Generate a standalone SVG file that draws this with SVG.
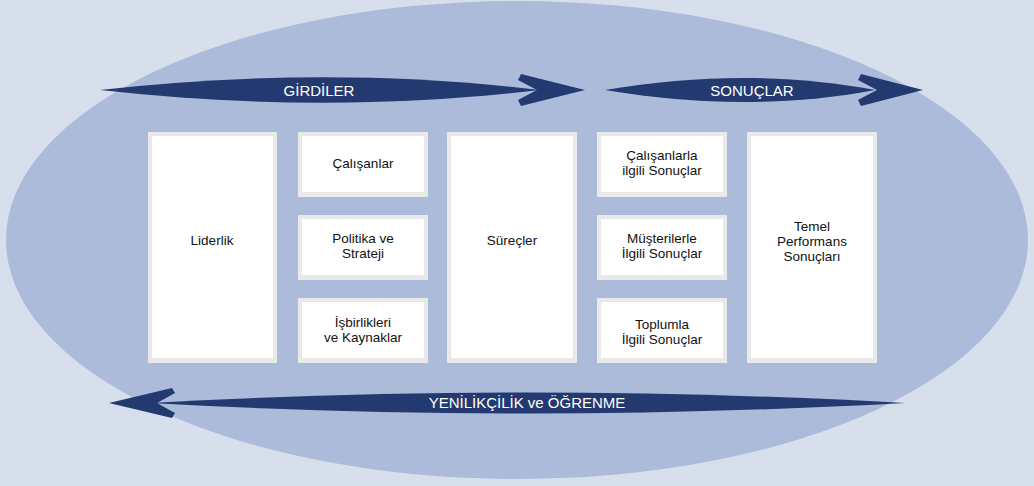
<svg xmlns="http://www.w3.org/2000/svg" width="1034" height="486" viewBox="0 0 1034 486">
<style>
.frame{fill:#e9e9ea}
.inner{fill:#ffffff}
.lbl{font-family:"Liberation Sans","DejaVu Sans",sans-serif;font-size:13.5px;fill:#111;text-anchor:middle}
.alb{font-family:"Liberation Sans","DejaVu Sans",sans-serif;font-size:15px;fill:#ffffff;text-anchor:middle}
.arr{fill:#233a70}
</style>
<rect x="0" y="0" width="1034" height="486" fill="#d7dfec"/>
<ellipse cx="517" cy="240" rx="511" ry="239" fill="#abbbd9"/>
<g id="connectors">
  <g id="arrow-girdiler">
    <path class="arr" d="M100,90 C250,73 400,73 540,90 C400,107 250,107 100,90 Z"/>
    <path class="arr" d="M585,90 L521,74 L518,80 L537,90 L518,100 L521,106 Z"/>
    <text class="alb" x="319" y="96">GİRDİLER</text>
  </g>
  <g id="arrow-sonuclar">
    <path class="arr" d="M605,90 C700,74 790,74 875,90 C790,106 700,106 605,90 Z"/>
    <path class="arr" d="M923,90 L861,74 L858,80 L877,90 L858,100 L861,106 Z"/>
    <text class="alb" x="752" y="96">SONUÇLAR</text>
  </g>
  <g id="arrow-yenilikcilik">
    <path class="arr" d="M150,403 C400,389 650,389 905,403 C650,417 400,417 150,403 Z"/>
    <path class="arr" d="M109,403 L172,388 L175,393 L157,403 L175,413 L172,418 Z"/>
    <text class="alb" x="527" y="408">YENİLİKÇİLİK ve ÖĞRENME</text>
  </g>
</g>
<g id="node-liderlik">
  <rect class="frame" x="148" y="132" width="129" height="231"/>
  <rect class="inner" x="152" y="136" width="121" height="222"/>
  <text class="lbl" x="212" y="245">Liderlik</text>
</g>
<g id="node-calisanlar">
  <rect class="frame" x="298" y="132" width="130" height="65"/>
  <rect class="inner" x="302" y="136" width="122" height="56"/>
  <text class="lbl" x="363" y="168">Çalışanlar</text>
</g>
<g id="node-politika">
  <rect class="frame" x="298" y="215" width="130" height="65"/>
  <rect class="inner" x="302" y="219" width="122" height="56"/>
  <text class="lbl" x="363" y="243">Politika ve</text>
  <text class="lbl" x="363" y="258">Strateji</text>
</g>
<g id="node-isbirlikleri">
  <rect class="frame" x="298" y="298" width="130" height="65"/>
  <rect class="inner" x="302" y="302" width="122" height="56"/>
  <text class="lbl" x="363" y="327">İşbirlikleri</text>
  <text class="lbl" x="363" y="342">ve Kaynaklar</text>
</g>
<g id="node-surecler">
  <rect class="frame" x="447" y="132" width="130" height="231"/>
  <rect class="inner" x="451" y="136" width="122" height="222"/>
  <text class="lbl" x="512" y="245">Süreçler</text>
</g>
<g id="node-calisan-sonuc">
  <rect class="frame" x="597" y="132" width="130" height="65"/>
  <rect class="inner" x="601" y="136" width="122" height="56"/>
  <text class="lbl" x="662" y="160">Çalışanlarla</text>
  <text class="lbl" x="662" y="175">ilgili Sonuçlar</text>
</g>
<g id="node-musteri-sonuc">
  <rect class="frame" x="597" y="215" width="130" height="65"/>
  <rect class="inner" x="601" y="219" width="122" height="56"/>
  <text class="lbl" x="662" y="243">Müşterilerle</text>
  <text class="lbl" x="662" y="258">İlgili Sonuçlar</text>
</g>
<g id="node-toplum-sonuc">
  <rect class="frame" x="597" y="298" width="130" height="65"/>
  <rect class="inner" x="601" y="302" width="122" height="56"/>
  <text class="lbl" x="662" y="329">Toplumla</text>
  <text class="lbl" x="662" y="344">İlgili Sonuçlar</text>
</g>
<g id="node-temel">
  <rect class="frame" x="747" y="132" width="130" height="231"/>
  <rect class="inner" x="751" y="136" width="122" height="222"/>
  <text class="lbl" x="812" y="231">Temel</text>
  <text class="lbl" x="812" y="246">Performans</text>
  <text class="lbl" x="812" y="261">Sonuçları</text>
</g>
</svg>
